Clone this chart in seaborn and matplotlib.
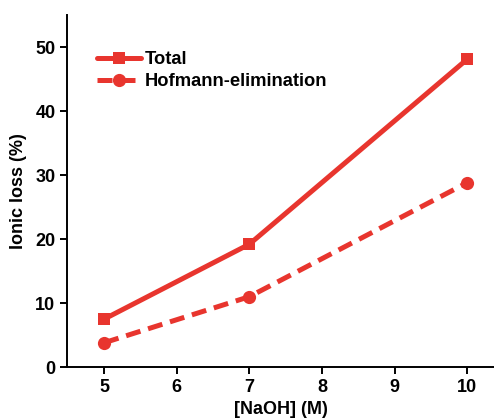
import pandas as pd
import matplotlib.pyplot as plt
import seaborn as sns

# Data
naoh = [5, 7, 10]
total_loss = [7.5, 19.2, 48.1]
hofmann_loss = [3.8, 11.0, 28.8]

red = '#e8352e'

sns.set_style('ticks')
plt.rcParams['font.family'] = ['Liberation Sans', 'DejaVu Sans']
plt.rcParams['font.weight'] = 'bold'
plt.rcParams['text.color'] = 'black'
plt.rcParams['axes.labelcolor'] = 'black'

df = pd.DataFrame({'naoh': naoh, 'total': total_loss, 'hofmann': hofmann_loss})

fig = plt.figure(figsize=(4.94, 4.19), dpi=100)
ax = fig.add_axes([0.136, 0.124, 0.864, 0.84])

sns.lineplot(data=df, x='naoh', y='total', ax=ax, color=red, linewidth=3.6,
             marker='s', markersize=8.5, markeredgewidth=0, label='Total')
sns.lineplot(data=df, x='naoh', y='hofmann', ax=ax, color=red, linewidth=3.6,
             linestyle=(0, (3, 1.6)), marker='o', markersize=9.5, markeredgewidth=0,
             label='Hofmann-elimination')

ax.set_xlim(4.49, 10.37)
ax.set_ylim(0, 55)
ax.set_xticks([5, 6, 7, 8, 9, 10])
ax.set_yticks([0, 10, 20, 30, 40, 50])
ax.set_xlabel('[NaOH] (M)', fontsize=13, fontweight='bold', labelpad=4)
ax.set_ylabel('Ionic loss (%)', fontsize=13, fontweight='bold', labelpad=6)
ax.tick_params(axis='both', direction='out', length=5, width=1.4, labelsize=13,
               colors='black', labelcolor='black')
for lbl in ax.get_xticklabels() + ax.get_yticklabels():
    lbl.set_fontweight('bold')

sns.despine(ax=ax)
for sp in ['left', 'bottom']:
    ax.spines[sp].set_linewidth(1.4)
    ax.spines[sp].set_color('black')

leg = ax.legend(loc='upper left', bbox_to_anchor=(0.07, 0.898), frameon=False, fontsize=13.2,
                handlelength=2.4, handletextpad=0.2, labelspacing=0.3, borderaxespad=0,
                borderpad=0)
for t in leg.get_texts():
    t.set_color('black')

plt.savefig('out.png', dpi=100)
